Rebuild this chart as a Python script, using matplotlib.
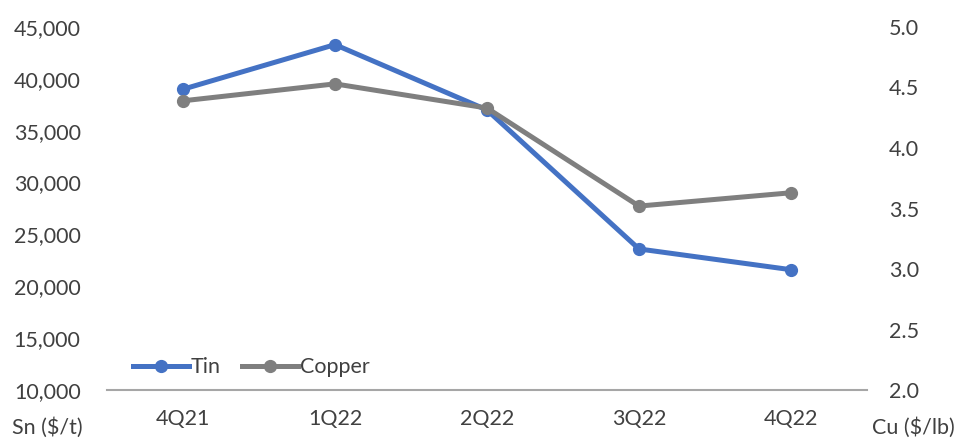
import matplotlib.pyplot as plt
from matplotlib.ticker import FuncFormatter

quarters = ["4Q21", "1Q22", "2Q22", "3Q22", "4Q22"]
tin = [39000, 43300, 37000, 23600, 21600]
copper = [4.39, 4.53, 4.33, 3.52, 3.63]

blue = "#4472C4"
grey = "#7F7F7F"
text_col = "#404040"
fs = 15.5

plt.rcParams['font.family'] = ['Lato', 'DejaVu Sans']

fig = plt.figure(figsize=(9.59, 4.41), dpi=100)
ax = fig.add_axes([0.1116, 0.1156, 0.7924, 0.8232])
ax2 = ax.twinx()

x = range(len(quarters))
l1, = ax.plot(x, tin, color=blue, lw=3.6, marker='o', ms=8.5, label="Tin", zorder=3)
l2, = ax2.plot(x, copper, color=grey, lw=3.6, marker='o', ms=8.5, label="Copper", zorder=2)

ax.set_xlim(-0.5, len(quarters) - 0.5)
ax.set_ylim(10000, 45000)
ax.set_yticks(range(10000, 45001, 5000))
ax.yaxis.set_major_formatter(FuncFormatter(lambda v, p: f"{int(v):,}"))
ax2.set_ylim(2.0, 5.0)
ax2.set_yticks([2.0, 2.5, 3.0, 3.5, 4.0, 4.5, 5.0])
ax2.yaxis.set_major_formatter(FuncFormatter(lambda v, p: f"{v:.1f}"))

ax.set_xticks(list(x))
ax.set_xticklabels(quarters)

for a in (ax, ax2):
    for s in ("top", "left", "right", "bottom"):
        a.spines[s].set_visible(False)
    a.tick_params(length=0, labelsize=fs, colors=text_col)
ax.spines["bottom"].set_visible(True)
ax.spines["bottom"].set_color("#A6A6A6")
ax.spines["bottom"].set_linewidth(1.5)
ax.tick_params(axis='y', pad=19)
ax.tick_params(axis='x', pad=14)
ax2.tick_params(axis='y', pad=16)

fig.text(0.012, 0.03, "Sn ($/t)", fontsize=fs, color=text_col, ha='left', va='center')
fig.text(0.996, 0.03, "Cu ($/lb)", fontsize=fs, color=text_col, ha='right', va='center')

fig.legend(handles=[l1, l2], loc='center left', bbox_to_anchor=(0.118, 0.167),
           frameon=False, fontsize=fs, handlelength=2.6, handletextpad=0.1,
           columnspacing=1.0, ncol=2, labelcolor=text_col)

fig.savefig("out.png", dpi=100)
